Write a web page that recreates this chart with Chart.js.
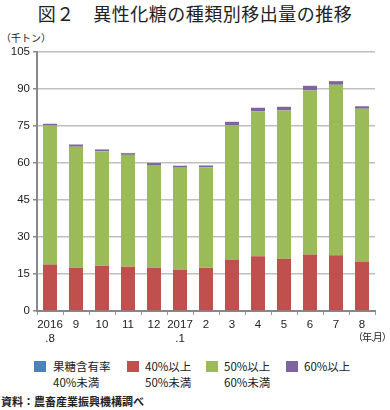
<!DOCTYPE html>
<html><head><meta charset="utf-8">
<script src="https://cdn.jsdelivr.net/npm/chart.js@4.4.0/dist/chart.umd.min.js"></script>
<style>
body{margin:0;width:390px;height:410px;background:#fff;position:relative;overflow:hidden;font-family:"Noto Sans CJK JP","Noto Sans",sans-serif;color:#222}
#title{position:absolute;left:0;top:1px;width:390px;text-align:center;font-size:18px;line-height:24px;letter-spacing:0.5px}
#unit{position:absolute;left:1px;top:31px;font-size:10px;line-height:14px;white-space:nowrap}
#wrap{position:absolute;left:0;top:0;width:390px;height:350px}
.lg{position:absolute;font-size:11.5px;line-height:16px;white-space:nowrap}
.sw{position:absolute;width:12px;height:11px}
#src{position:absolute;left:1px;top:394px;font-size:11px;line-height:14px;font-weight:bold;white-space:nowrap}
#ym{position:absolute;left:353px;top:330px;font-size:10px;line-height:14px;white-space:nowrap;letter-spacing:-1px}
</style></head><body>
<div id="title">図２　異性化糖の種類別移出量の推移</div>
<div id="unit">（千トン）</div>
<div id="wrap"><canvas id="c"></canvas></div>
<div id="ym">（年.月）</div>
<div class="sw" style="left:34px;top:361px;background:#4F81BD"></div>
<div class="lg" style="left:53px;top:358px">果糖含有率<br>40%未満</div>
<div class="sw" style="left:127px;top:361px;background:#C0504D"></div>
<div class="lg" style="left:145px;top:358px">40%以上<br>50%未満</div>
<div class="sw" style="left:206px;top:361px;background:#9BBB59"></div>
<div class="lg" style="left:224px;top:358px">50%以上<br>60%未満</div>
<div class="sw" style="left:286px;top:361px;background:#8064A2"></div>
<div class="lg" style="left:304px;top:358px">60%以上</div>
<div id="src">資料：農畜産業振興機構調べ</div>
<script>
const categories = [["2016",".8"],"9","10","11","12",["2017",".1"],"2","3","4","5","6","7","8"];
const seriesNames = ["果糖含有率40%未満","40%以上50%未満","50%以上60%未満","60%以上"];
const below40 = [0,0,0,0,0,0,0,0,0,0,0,0,0];
const from40to50 = [18.8,17.6,18.4,18.0,17.6,16.8,17.5,20.8,22.2,21.2,22.9,22.6,20.0];
const from50to60 = [56.4,49.0,46.3,45.3,41.6,41.3,40.7,54.5,58.7,60.1,66.5,69.1,62.0];
const above60 = [0.7,0.9,0.8,0.7,0.8,0.8,0.8,1.4,1.5,1.5,1.9,1.5,1.0];
const yTicks = [0,15,30,45,60,75,90,105];
const colors = ["#4F81BD","#C0504D","#9BBB59","#8064A2"];

const seriesData = [below40, from40to50, from50to60, above60];
new Chart(document.getElementById('c'), {
  type: 'bar',
  data: {
    labels: categories,
    datasets: seriesData.map((d,i)=>({label: seriesNames[i], data: d, backgroundColor: colors[i], barPercentage: 0.54, categoryPercentage: 1}))
  },
  options: {
    responsive: true, maintainAspectRatio: false, animation: false,
    layout: {padding: {top: 52, right: 15, left: 0, bottom: 0}},
    plugins: {legend: {display: false}, tooltip: {enabled: false}},
    scales: {
      x: {
        stacked: true,
        afterFit: s => { s.height = 39; },
        grid: {display: true, drawOnChartArea: false, drawTicks: true, tickLength: 4, color: '#999', lineWidth: 1, offset: true},
        border: {display: true, color: '#888', width: 2},
        ticks: {color: '#222', font: {family: 'Liberation Sans, Arial, sans-serif', size: 11.5}, padding: 3, maxRotation: 0, autoSkip: false}
      },
      y: {
        stacked: true, min: 0, max: 105,
        afterFit: s => { s.width = 37; },
        afterBuildTicks: s => { s.ticks = yTicks.map(v => ({value: v})); },
        grid: {color: '#BFBFBF', lineWidth: 1.5, drawTicks: true, tickLength: 4, tickColor: '#888'},
        border: {display: true, color: '#888', width: 2},
        ticks: {color: '#222', font: {family: 'Liberation Sans, Arial, sans-serif', size: 11.5}, padding: 3}
      }
    }
  }
});
</script>
</body></html>
